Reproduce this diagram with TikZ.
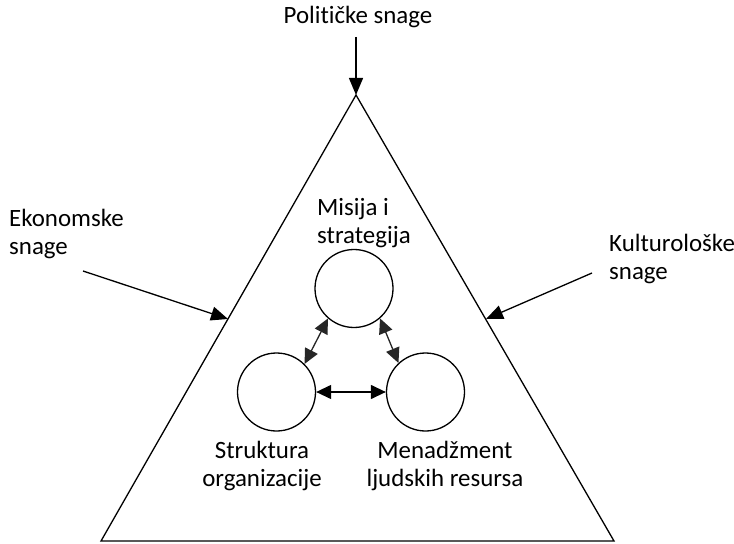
\documentclass[tikz,border=0pt]{standalone}
\usepackage{fontspec}
\setmainfont{Carlito}[Ligatures=NoCommon]
\usetikzlibrary{arrows.meta}
\begin{document}
\begin{tikzpicture}[x=1bp,y=-1bp,
  lbl/.style={inner sep=0pt,font=\fontsize{25}{28.5}\selectfont},
  ring/.style={circle,draw,line width=1.3bp,minimum size=78bp,inner sep=0pt},
  force/.style={line width=1.3bp,-{Triangle[length=17bp,width=14bp]}},
  link/.style={line width=1.3bp,{Triangle[length=15bp,width=14bp]}-{Triangle[length=15bp,width=14bp]}}]
\useasboundingbox (0,0) rectangle (734,544);
% outer triangle
\coordinate (apex) at (356,95);
\coordinate (bl) at (101,541);
\coordinate (br) at (614,541);
\draw[line width=1.3bp,line join=miter] (apex) -- (bl) -- (br) -- cycle;
% three circles
\node[ring] (mis) at (354,288.5) {};
\node[ring] (str) at (276.5,392) {};
\node[ring] (men) at (425.5,392) {};
% circle labels
\node[lbl,align=left,anchor=west] (tmis) at (317,223) {Misija i\\strategija};
\node[lbl,align=center] (tstr) at (262,466) {Struktura\\organizacije};
\node[lbl,align=center] (tmen) at (445,466) {Menadžment\\ljudskih resursa};
% outside forces
\node[lbl] (pol) at (358,17) {Političke snage};
\node[lbl,align=left,anchor=west] (eko) at (9,234) {Ekonomske\\snage};
\node[lbl,align=left,anchor=west] (kul) at (609,259) {Kulturološke\\snage};
\coordinate (polS) at (356,37);
\coordinate (ekoS) at (83,271);
\coordinate (ekoT) at (228,319);
\coordinate (kulS) at (592,273);
\coordinate (kulT) at (486,319);
\draw[force] (polS) -- (apex);
\draw[force] (ekoS) -- (ekoT);
\draw[force] (kulS) -- (kulT);
% links between circles
\draw[link] (str.east) -- (men.west);
\draw[link,black!85] (mis.229) -- (str.45);
\draw[link,black!85] (mis.311) -- (men.133);
\end{tikzpicture}
\end{document}
